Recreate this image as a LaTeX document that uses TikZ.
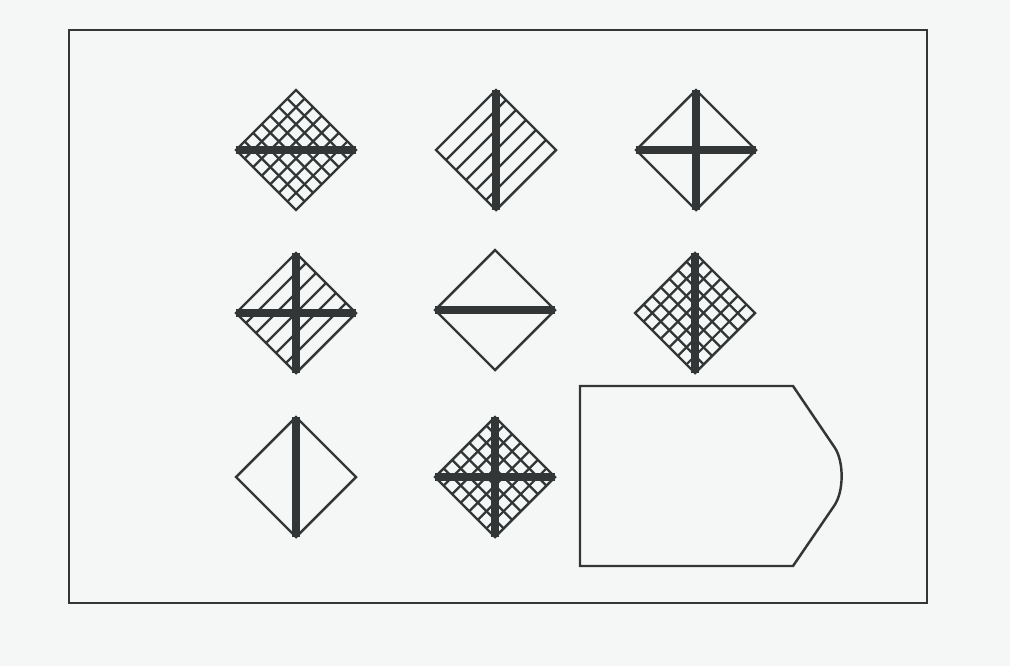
\documentclass[tikz,border=0pt]{standalone}
\definecolor{ink}{RGB}{50,54,54}
\definecolor{paper}{RGB}{245,246,246}
\tikzset{
  outline/.style={draw=ink,line width=1.4pt,line join=miter},
  hatch/.style={draw=ink,line width=1.3pt},
  bar/.style={draw=ink,line width=4pt}
}
\begin{document}
\begin{tikzpicture}[x=0.02cm,y=-0.02cm]
\useasboundingbox (0,0) rectangle (1010,666);
\fill[paper] (0,0) rectangle (1010,666);
% frame
\draw[outline] (69,30) rectangle (927,603);
% crossed grids
\foreach \cx/\cy in {296/150,695/313,495/477}
  \foreach \i in {1,...,6} {
    \draw[hatch] (\cx-60+\i*60/7,\cy+\i*60/7) -- (\cx+\i*60/7,\cy-60+\i*60/7);
    \draw[hatch] (\cx-60+\i*60/7,\cy-\i*60/7) -- (\cx+\i*60/7,\cy+60-\i*60/7);
  }
% single lines
\foreach \cx/\cy in {496/150,296/313}
  \foreach \i in {1,...,5}
    \draw[hatch] (\cx-60+\i*60/6,\cy+\i*60/6) -- (\cx+\i*60/6,\cy-60+\i*60/6);
% diamonds
\foreach \cx/\cy in {296/150,496/150,696/150,296/313,495/310,695/313,296/477,495/477}
  \draw[outline] (\cx-60,\cy) -- (\cx,\cy-60) -- (\cx+60,\cy) -- (\cx,\cy+60) -- cycle;
% horizontal bars
\foreach \cx/\cy in {296/150,696/150,296/313,495/310,495/477}
  \draw[bar] (\cx-60,\cy) -- (\cx+60,\cy);
% vertical bars
\foreach \cx/\cy in {496/150,696/150,296/313,695/313,296/477,495/477}
  \draw[bar] (\cx,\cy-60) -- (\cx,\cy+60);
% answer box
\draw[outline] (580,386) -- (793,386) -- (835,448)
  .. controls (844,462) and (844,492) .. (834,506) -- (793,566) -- (580,566) -- cycle;
\end{tikzpicture}
\end{document}
